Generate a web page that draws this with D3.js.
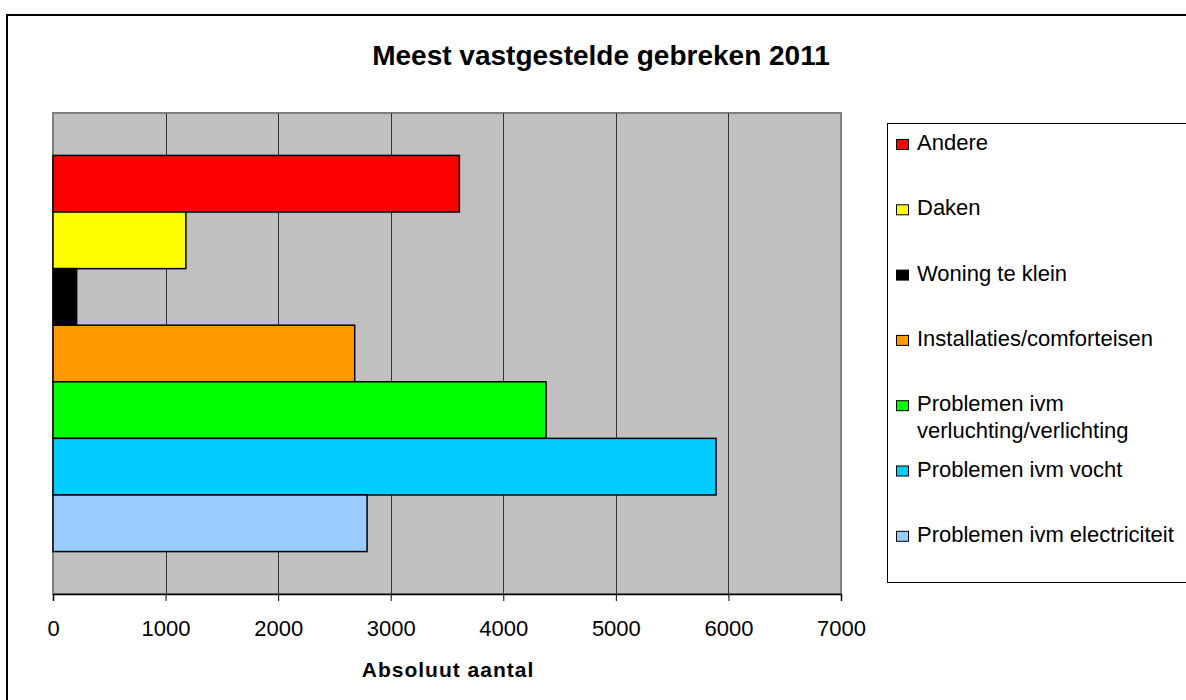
<!DOCTYPE html>
<html>
<head>
<meta charset="utf-8">
<script src="https://cdn.jsdelivr.net/npm/d3@7"></script>
<style>
  body { margin: 0; background: #fff; }
  svg { display: block; font-family: Arial, "Liberation Sans", sans-serif; }
</style>
</head>
<body>
<svg width="1186" height="700"></svg>
<script>
// data
var categories = ["Andere", "Daken", "Woning te klein", "Installaties/comforteisen",
  "Problemen ivm\nverluchting/verlichting", "Problemen ivm vocht", "Problemen ivm electriciteit"];
var values = [3610, 1180, 210, 2680, 4380, 5890, 2790];
var colors = ["#ff0000", "#ffff00", "#000000", "#ff9900", "#00ff00", "#00ccff", "#99ccff"];
var ticks = [0, 1000, 2000, 3000, 4000, 5000, 6000, 7000];

var svg = d3.select("svg");

// outer chart border
svg.append("rect").attr("x", 7).attr("y", 15).attr("width", 1210).attr("height", 720)
  .style("fill", "none").style("stroke", "#000").style("stroke-width", 2);

var pLeft = 53, pRight = 841, pTop = 113, pBottom = 594;

var x = d3.scaleLinear().domain([0, 7000]).range([pLeft, pRight]);

// gap width 150% of one bar, split above and below the group
var barH = (pBottom - pTop) / (categories.length + 1.5);
var gap = 1.5 * barH;
var y = d3.scaleBand().domain(d3.range(categories.length))
  .range([pTop + gap / 2, pBottom - gap / 2]).padding(0);

// plot area
svg.append("rect").attr("x", pLeft).attr("y", pTop).attr("width", pRight - pLeft).attr("height", pBottom - pTop)
  .style("fill", "#c0c0c0").style("stroke", "#808080").style("stroke-width", 2);

// gridlines
svg.append("g").selectAll("line").data(ticks.slice(1, -1)).enter().append("line")
  .attr("x1", function(d) { return Math.round(x(d)) + 0.5; })
  .attr("x2", function(d) { return Math.round(x(d)) + 0.5; })
  .attr("y1", pTop).attr("y2", pBottom)
  .style("stroke", "#333").style("stroke-width", 1);

// bars
svg.append("g").selectAll("rect").data(values).enter().append("rect")
  .attr("x", x(0))
  .attr("y", function(d, i) { return y(i); })
  .attr("width", function(d) { return x(d) - x(0); })
  .attr("height", y.bandwidth())
  .style("fill", function(d, i) { return colors[i]; })
  .style("stroke", "#000").style("stroke-width", 1.5);

// x axis
var axis = svg.append("g").attr("transform", "translate(0," + pBottom + ")")
  .call(d3.axisBottom(x).tickValues(ticks).tickSize(7).tickPadding(19).tickFormat(d3.format("d")));
axis.select(".domain").style("stroke", "#000").style("stroke-width", 1.5);
axis.selectAll(".tick line").style("stroke", "#000");
axis.selectAll("text").style("font-size", "22px").style("fill", "#000")
  .style("font-family", "Arial, 'Liberation Sans', sans-serif");

// titles
svg.append("text").attr("x", 601).attr("y", 65).attr("text-anchor", "middle")
  .text("Meest vastgestelde gebreken 2011")
  .style("font-size", "28px").style("font-weight", "bold");

svg.append("text").attr("x", 448).attr("y", 677).attr("text-anchor", "middle")
  .text("Absoluut aantal")
  .style("font-size", "21px").style("font-weight", "bold").style("letter-spacing", "1px");

// legend
svg.append("rect").attr("x", 887.5).attr("y", 123.5).attr("width", 330).attr("height", 459)
  .style("fill", "#fff").style("stroke", "#000").style("stroke-width", 1);

var leg = svg.append("g").selectAll("g").data(categories).enter().append("g")
  .attr("transform", function(d, i) { return "translate(0," + (150 + i * 65.3) + ")"; });

leg.append("rect").attr("x", 896.5).attr("y", -10.5).attr("width", 12).attr("height", 10)
  .style("fill", function(d, i) { return colors[i]; })
  .style("stroke", "#000").style("stroke-width", 1);

leg.append("text").attr("x", 917).style("font-size", "22px")
  .each(function(d) {
    var lines = d.split("\n");
    var t = d3.select(this);
    lines.forEach(function(l, j) {
      t.append("tspan").attr("x", 917).attr("dy", j === 0 ? 0 : 26.6).text(l);
    });
  });
</script>
</body>
</html>
